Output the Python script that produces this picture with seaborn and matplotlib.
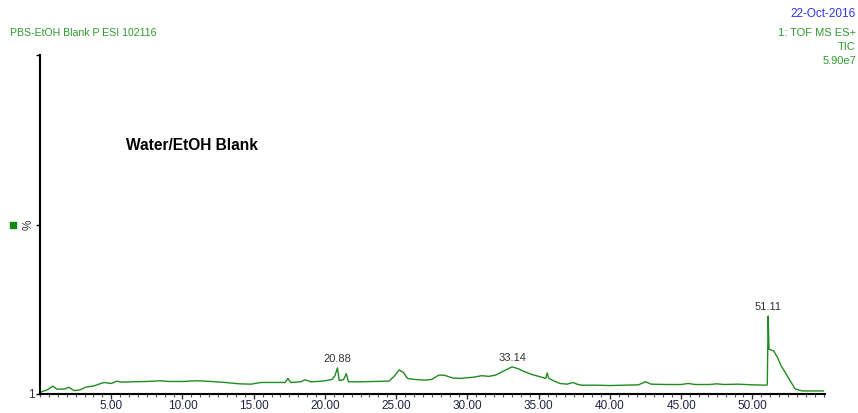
import numpy as np
import pandas as pd
import matplotlib.pyplot as plt
from matplotlib.ticker import MultipleLocator
import seaborn as sns

# retention time (min) and relative intensity (%)
rt = [0.0, 0.5, 0.9, 1.2, 1.8, 2.0, 2.4, 2.8, 3.2, 3.8, 4.2, 4.5, 5.0, 5.4, 5.7,
      6.5, 7.5, 8.5, 9.0, 10.0, 11.0, 12.0, 13.0, 14.0, 14.8, 15.5, 16.5, 17.2,
      17.4, 17.6, 18.3, 18.6, 19.0, 19.5, 20.0, 20.5, 20.7, 20.88, 21.0, 21.3,
      21.5, 21.65, 22.5, 23.5, 24.5, 24.9, 25.2, 25.5, 25.8, 26.3, 27.0, 27.5,
      28.0, 28.4, 29.0, 29.5, 30.5, 31.0, 31.5, 32.0, 32.5, 33.14, 33.6, 34.0,
      34.5, 35.0, 35.5, 35.6, 35.7, 36.0, 36.5, 37.0, 37.4, 37.7, 38.0, 39.0,
      40.0, 41.0, 42.0, 42.5, 42.9, 44.0, 45.0, 45.5, 46.0, 47.0, 47.5, 48.0,
      49.0, 50.0, 51.0, 51.05, 51.11, 51.17, 51.5, 51.8, 52.0, 52.5, 53.0, 53.5,
      55.0]
intensity = [0.5, 1.2, 2.3, 1.4, 1.5, 2.0, 1.0, 1.2, 2.0, 2.4, 3.0, 3.4, 3.1, 3.8,
             3.5, 3.6, 3.7, 3.9, 3.7, 3.7, 3.9, 3.7, 3.4, 3.0, 2.9, 3.4, 3.4, 3.4,
             4.6, 3.4, 3.6, 4.2, 3.6, 3.7, 3.9, 4.3, 5.4, 7.7, 4.0, 4.2, 6.0, 3.6,
             3.6, 3.7, 3.8, 5.4, 7.1, 6.4, 4.6, 4.3, 4.1, 4.3, 5.6, 5.5, 4.7, 4.6,
             5.0, 5.4, 5.2, 5.6, 6.7, 8.0, 7.4, 6.6, 5.8, 5.2, 4.6, 6.2, 4.7, 4.0,
             3.1, 2.9, 3.4, 2.9, 2.6, 2.6, 2.5, 2.6, 2.7, 3.6, 2.9, 2.8, 2.8, 3.1,
             2.8, 2.8, 3.0, 2.8, 2.9, 2.7, 2.6, 2.8, 23.0, 13.2, 12.7, 10.5, 8.5,
             5.0, 1.5, 0.9, 0.9]

peak_rt = [20.88, 33.14, 51.11]
peak_int = [7.7, 8.0, 23.0]

xticks = [5, 10, 15, 20, 25, 30, 35, 40, 45, 50]

df = pd.DataFrame({"rt": rt, "intensity": intensity})

sns.set_style("white")
plt.rcParams['font.family'] = ['Liberation Sans', 'DejaVu Sans']

fig = plt.figure(figsize=(8.58, 4.13), dpi=100)
ax = fig.add_axes([40 / 858, 19 / 413, 785 / 858, 339 / 413])

sns.lineplot(data=df, x="rt", y="intensity", ax=ax, color="#1f8c1f",
             linewidth=1.0, estimator=None)

ax.set_xlim(0, 55.1)
ax.set_ylim(0, 100)
ax.set_xlabel("")
ax.set_ylabel("")

for side in ["top", "right"]:
    ax.spines[side].set_visible(False)
for side in ["left", "bottom"]:
    ax.spines[side].set_color("black")
    ax.spines[side].set_linewidth(1.5)

ax.set_xticks(xticks)
ax.set_xticklabels(["%.2f" % t for t in xticks], fontsize=8.5, color="#222244")
ax.xaxis.set_minor_locator(MultipleLocator(0.625))
ax.tick_params(axis="x", which="major", bottom=True, length=3.5, width=1,
               color="#333333", pad=0.5)
ax.tick_params(axis="x", which="minor", bottom=True, length=2.2, width=0.8,
               color="#555555")

ax.set_yticks([0, 50, 100])
ax.set_yticklabels(["1", "%", ""], fontsize=8.5, color="#333333")
ax.get_yticklabels()[1].set_rotation(90)
ax.get_yticklabels()[1].set_verticalalignment("center")
ax.tick_params(axis="y", which="major", left=True, length=3, width=1,
               color="black", pad=1)

# green marker left of the y axis
ax.scatter([-0.0344], [0.5], marker="s", s=20, color="#118811",
           transform=ax.transAxes, clip_on=False)

for t, v in zip(peak_rt, peak_int):
    ax.annotate("%.2f" % t, (t, v), xytext=(0, 3), textcoords="offset points",
                ha="center", va="bottom", fontsize=8, color="#333333")

fig.text(126 / 858, 1 - 145 / 413, "Water/EtOH Blank", fontsize=11.2,
         fontweight="bold", color="black", ha="left", va="center")

fig.text(10 / 858, 1 - 33 / 413, "PBS-EtOH Blank P ESI 102116", fontsize=7.6,
         color="#2e9a2e", ha="left", va="center")
fig.text(856 / 858, 1 - 14 / 413, "22-Oct-2016", fontsize=8.5,
         color="#3333ee", ha="right", va="center")
fig.text(856 / 858, 1 - 33 / 413, "1: TOF MS ES+", fontsize=8,
         color="#2e9a2e", ha="right", va="center")
fig.text(856 / 858, 1 - 47 / 413, "TIC", fontsize=8,
         color="#2e9a2e", ha="right", va="center")
fig.text(856 / 858, 1 - 61 / 413, "5.90e7", fontsize=8,
         color="#2e9a2e", ha="right", va="center")

fig.savefig("out.png", dpi=100)
